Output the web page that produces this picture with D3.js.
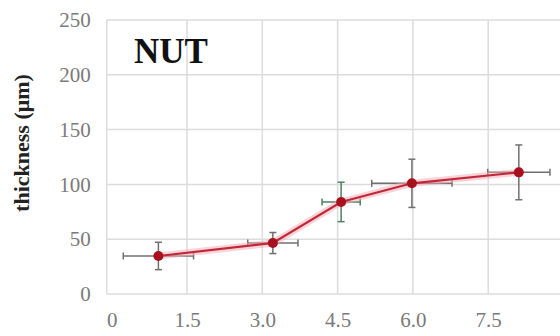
<!DOCTYPE html>
<html>
<head>
<meta charset="utf-8">
<script src="https://cdn.jsdelivr.net/npm/d3@7"></script>
<style>
  body { margin: 0; background: #fff; }
</style>
</head>
<body>
<svg id="chart" width="560" height="336"></svg>
<script>
// values
const xVals = [0.93, 3.21, 4.57, 5.98, 8.11];
const xErr = [0.70, 0.50, 0.38, 0.80, 0.62];
const yVals = [34.7, 46.5, 84, 101, 111];
const yErr = [12.5, 9.6, 18, 22, 25];
const barColors = ['#707070', '#707070', '#4f8060', '#707070', '#707070'];
const xTicks = [0, 1.5, 3.0, 4.5, 6.0, 7.5];
const yTicks = [0, 50, 100, 150, 200, 250];
const serif = '"Liberation Serif", "Times New Roman", serif';

const points = xVals.map((x, i) => ({ x, y: yVals[i], ex: xErr[i], ey: yErr[i], c: barColors[i] }));

const svg = d3.select('#chart');
const x = d3.scaleLinear().domain([-0.1, 9]).range([106.7, 563.5]);
const y = d3.scaleLinear().domain([0, 250]).range([294, 20]);

// grid
svg.append('g')
  .selectAll('line')
  .data(yTicks)
  .join('line')
  .attr('x1', x(-0.1)).attr('x2', 560)
  .attr('y1', d => y(d)).attr('y2', d => y(d))
  .attr('stroke', '#dcdcdc').attr('stroke-width', 1.5);

svg.append('g')
  .selectAll('line')
  .data(xTicks.slice(1).concat([9]))
  .join('line')
  .attr('x1', d => x(d)).attr('x2', d => x(d))
  .attr('y1', y(250)).attr('y2', y(0))
  .attr('stroke', '#dcdcdc').attr('stroke-width', 1.5);

svg.append('line')
  .attr('x1', x(-0.1)).attr('x2', x(-0.1))
  .attr('y1', y(250)).attr('y2', y(0))
  .attr('stroke', '#dcdcdc').attr('stroke-width', 1.5);

// axes labels
const yAxis = d3.axisLeft(y).tickValues(yTicks).tickSize(0).tickPadding(16);
svg.append('g')
  .attr('transform', `translate(${x(-0.1)},0)`)
  .call(yAxis)
  .attr('font-family', serif)
  .call(g => g.select('.domain').remove())
  .call(g => g.selectAll('text')
    .attr('fill', '#7a7a7a')
    .attr('font-size', 21));

const xAxis = d3.axisBottom(x)
  .tickValues(xTicks)
  .tickSize(0)
  .tickPadding(18)
  .tickFormat(d => d === 0 ? '0' : d3.format('.1f')(d));
svg.append('g')
  .attr('transform', `translate(0,${y(0)})`)
  .call(xAxis)
  .attr('font-family', serif)
  .call(g => g.select('.domain').remove())
  .call(g => g.selectAll('text')
    .attr('fill', '#7a7a7a')
    .attr('font-size', 21));

svg.append('text')
  .attr('transform', 'translate(29,143) rotate(-90)')
  .attr('text-anchor', 'middle')
  .attr('font-family', serif)
  .attr('font-size', 22)
  .attr('font-weight', 'bold')
  .attr('fill', '#222')
  .text('thickness (μm)');

svg.append('text')
  .attr('x', 134).attr('y', 63)
  .attr('font-family', serif)
  .attr('font-size', 35)
  .attr('font-weight', 'bold')
  .attr('fill', '#111')
  .text('NUT');

// error bars
const eb = svg.append('g').selectAll('g').data(points).join('g')
  .attr('stroke', d => d.c).attr('stroke-width', 1.5);
eb.append('line')
  .attr('x1', d => x(d.x - d.ex)).attr('x2', d => x(d.x + d.ex))
  .attr('y1', d => y(d.y)).attr('y2', d => y(d.y));
eb.append('line')
  .attr('x1', d => x(d.x)).attr('x2', d => x(d.x))
  .attr('y1', d => y(d.y - d.ey)).attr('y2', d => y(d.y + d.ey));
[-1, 1].forEach(s => {
  eb.append('line')
    .attr('x1', d => x(d.x + s * d.ex)).attr('x2', d => x(d.x + s * d.ex))
    .attr('y1', d => y(d.y) - 3.5).attr('y2', d => y(d.y) + 3.5);
  eb.append('line')
    .attr('x1', d => x(d.x) - 3.5).attr('x2', d => x(d.x) + 3.5)
    .attr('y1', d => y(d.y + s * d.ey)).attr('y2', d => y(d.y + s * d.ey));
});

// line
const line = d3.line().x(d => x(d.x)).y(d => y(d.y));
svg.append('path')
  .datum(points)
  .attr('d', line)
  .attr('fill', 'none')
  .attr('stroke', '#f4a8b0')
  .attr('stroke-opacity', 0.5)
  .attr('stroke-width', 7);
svg.append('path')
  .datum(points)
  .attr('d', line)
  .attr('fill', 'none')
  .attr('stroke', '#c0283a')
  .attr('stroke-width', 2.2);

svg.append('g').selectAll('circle').data(points).join('circle')
  .attr('cx', d => x(d.x)).attr('cy', d => y(d.y))
  .attr('r', 5)
  .attr('fill', '#a8101e');
</script>
</body>
</html>
